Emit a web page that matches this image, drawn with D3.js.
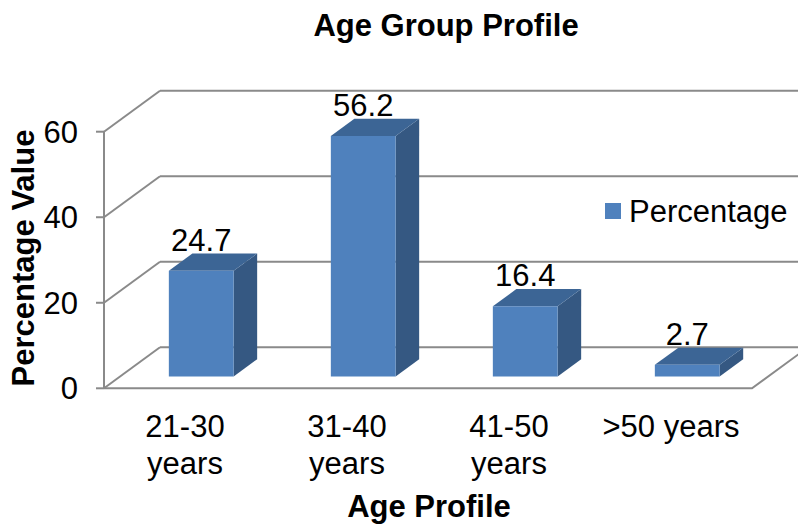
<!DOCTYPE html>
<html>
<head>
<meta charset="utf-8">
<script src="https://cdn.jsdelivr.net/npm/d3@7"></script>
<style>
  html, body { margin: 0; padding: 0; background: #fff; }
  svg text { font-family: "Liberation Sans", Arial, sans-serif; fill: #000; }
</style>
</head>
<body>
<svg id="chart" width="798" height="527"></svg>
<script>
// Age group shares (percent)
const categories = [["21-30", "years"], ["31-40", "years"], ["41-50", "years"], [">50 years"]];
const percentages = [24.7, 56.2, 16.4, 2.7];
const yTicks = [0, 20, 40, 60];
const seriesName = "Percentage";

const svg = d3.select("#chart");
const fontSize = 31;

// Front plane of the 3D box
const frontLeft = 104, frontRight = 752;
const yScale = d3.scaleLinear().domain([0, 60]).range([388.3, 131.7]);
const xScale = d3.scaleBand()
  .domain(d3.range(categories.length))
  .range([frontLeft, frontRight])
  .paddingInner(0.6)
  .paddingOuter(0.3);

// Full depth offset of the back wall
const depthX = 56, depthY = -41;
const proj = (x, y, z) => [x + z * depthX, y + z * depthY];
const zFront = 0.29, zBack = 0.71;

const gridColor = "#8a8a8a";
const grid = svg.append("g")
  .attr("fill", "none")
  .attr("stroke", gridColor)
  .attr("stroke-width", 2);

// Back wall gridlines and side-wall diagonals
yTicks.forEach(t => {
  const y = yScale(t);
  const b = proj(frontLeft, y, 1);
  grid.append("line").attr("x1", b[0]).attr("y1", b[1]).attr("x2", 820).attr("y2", b[1]);
  grid.append("line").attr("x1", frontLeft).attr("y1", y).attr("x2", b[0]).attr("y2", b[1]);
});

// Floor front edge and right diagonal
const y0 = yScale(0);
const fr = proj(frontRight, y0, 1);
grid.append("path").attr("d", `M${frontLeft},${y0}L${frontRight},${y0}L${fr[0]},${fr[1]}`);

// Front value axis with tick marks
grid.append("line")
  .attr("x1", frontLeft).attr("y1", yScale(60))
  .attr("x2", frontLeft).attr("y2", yScale(0));
yTicks.forEach(t => {
  grid.append("line")
    .attr("x1", frontLeft - 8).attr("y1", yScale(t))
    .attr("x2", frontLeft).attr("y2", yScale(t));
});

svg.append("g").selectAll("text").data(yTicks).join("text")
  .attr("x", 78)
  .attr("y", d => yScale(d))
  .attr("dy", "0.36em")
  .attr("text-anchor", "end")
  .attr("font-size", fontSize)
  .text(d => d);

// 3D bars
const colFront = "#4f81bd", colTop = "#3c6595", colSide = "#355882";
const bars = svg.append("g");
percentages.forEach((v, i) => {
  const x0 = xScale(i), x1 = x0 + xScale.bandwidth();
  const yt = yScale(v), yb = yScale(0);
  const p = (x, y, z) => proj(x, y, z).join(",");
  // side face
  bars.append("polygon")
    .attr("points", [p(x1, yt, zFront), p(x1, yt, zBack), p(x1, yb, zBack), p(x1, yb, zFront)].join(" "))
    .attr("fill", colSide);
  // top face
  bars.append("polygon")
    .attr("points", [p(x0, yt, zFront), p(x0, yt, zBack), p(x1, yt, zBack), p(x1, yt, zFront)].join(" "))
    .attr("fill", colTop);
  // front face
  bars.append("polygon")
    .attr("points", [p(x0, yt, zFront), p(x1, yt, zFront), p(x1, yb, zFront), p(x0, yb, zFront)].join(" "))
    .attr("fill", colFront);
  // value label
  const c = proj((x0 + x1) / 2, yt, zFront);
  bars.append("text")
    .attr("x", c[0])
    .attr("y", c[1] - 20)
    .attr("text-anchor", "middle")
    .attr("font-size", fontSize)
    .text(v);
});

// Category labels
const catG = svg.append("g");
categories.forEach((lines, i) => {
  const cx = xScale(i) + xScale.bandwidth() / 2;
  const t = catG.append("text")
    .attr("x", cx)
    .attr("y", 437)
    .attr("text-anchor", "middle")
    .attr("font-size", fontSize);
  lines.forEach((ln, j) => {
    t.append("tspan").attr("x", cx).attr("dy", j === 0 ? 0 : 37).text(ln);
  });
});

// Titles
svg.append("text")
  .attr("x", 446).attr("y", 36)
  .attr("text-anchor", "middle")
  .attr("font-size", fontSize).attr("font-weight", "bold")
  .text("Age Group Profile");

svg.append("text")
  .attr("x", 429).attr("y", 517)
  .attr("text-anchor", "middle")
  .attr("font-size", fontSize).attr("font-weight", "bold")
  .text("Age Profile");

svg.append("text")
  .attr("transform", "translate(34,258) rotate(-90)")
  .attr("text-anchor", "middle")
  .attr("font-size", fontSize).attr("font-weight", "bold")
  .text("Percentage Value");

// Legend
const legend = svg.append("g").attr("transform", "translate(605,203)");
legend.append("rect").attr("width", 16).attr("height", 16).attr("fill", colFront);
legend.append("text")
  .attr("x", 24).attr("y", 8).attr("dy", "0.36em")
  .attr("font-size", fontSize)
  .text(seriesName);
</script>
</body>
</html>
